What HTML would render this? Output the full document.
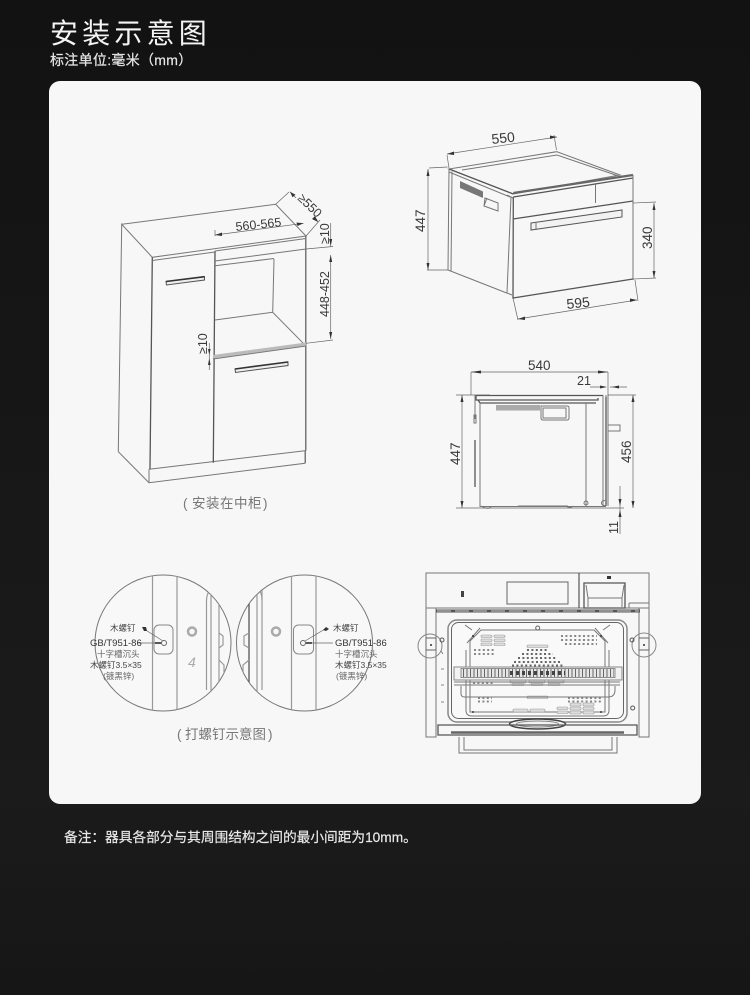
<!DOCTYPE html>
<html lang="zh"><head><meta charset="utf-8"><title>安装示意图</title>
<style>
html,body{margin:0;padding:0;background:#141414}
svg{display:block}
text{font-family:"Liberation Sans","Noto Sans CJK SC",sans-serif}
.d{font-size:13px;fill:#3a3a3a}
.l{fill:none;stroke:#777;stroke-width:1}
.t{fill:none;stroke:#666;stroke-width:.7}
.g{fill:none;stroke:#999;stroke-width:1.2}
.k{fill:none;stroke:#555;stroke-width:1.3}
.a{fill:#333;stroke:none}
.dot{fill:none;stroke:#888;stroke-width:2;stroke-dasharray:2 2.4}
.dk{fill:none;stroke:#666;stroke-width:2;stroke-dasharray:2 2.4}
.pill{fill:#ddd;stroke:#999;stroke-width:.6}
</style></head><body>
<svg xmlns="http://www.w3.org/2000/svg" width="750" height="995" viewBox="0 0 750 995">
<defs>
<linearGradient id="bg" x1="0" y1="0" x2="0" y2="1"><stop offset="0" stop-color="#121212"/><stop offset=".8" stop-color="#1b1b1b"/><stop offset="1" stop-color="#161616"/></linearGradient>
<clipPath id="c1"><circle cx="163" cy="643" r="68"/></clipPath>
<clipPath id="c2"><circle cx="304.5" cy="643" r="68"/></clipPath>
</defs>
<rect width="750" height="995" fill="url(#bg)"/>
<text x="50" y="43" font-size="28" letter-spacing="4.200" fill="#f4f4f4">安装示意图</text>
<text x="50" y="65" font-size="14" letter-spacing=".3" fill="#e8e8e8" stroke="#e8e8e8" stroke-width=".2">标注单位:毫米（mm）</text>
<rect x="49" y="81" width="652" height="723" rx="11" fill="#f7f7f7"/>
<text x="64" y="842" font-size="13.700" fill="#e8e8e8" stroke="#e8e8e8" stroke-width=".2">备注：<tspan x="105">器具各部分与其周围结构之间的最小间距为10mm。</tspan></text>

<!-- cabinet -->
<g>
<path class="l" d="M121.700 224.300L275.700 204.300L306 236L152.300 257.300L121.700 224.300L118.300 451.700L149 482.700L305 463.300V450.700M149 469.300L305 450.700M149 469.300V482.700"/>
<path class="k" d="M152.300 257.300L150 469M215 251L213.300 462.700"/>
<path class="l" d="M152.300 260.500L215 252M215 261L306 249M215 265.700L274 258.500M215 251L306 238.500M274 259L272.700 312.300M215 320L272.700 312.300L303.300 343.300M306 236V450.700M305.500 236V463"/>
<path d="M213 355L306 342.500V345.500L213 358.500Z" fill="#bbb"/>
<path class="l" d="M213 359L306 346"/>
<path d="M166 281.500L204.500 276.700V280L166.500 285Z" fill="#eee" stroke="#555" stroke-width="1"/>
<path d="M166 281.500L204.500 276.700" stroke="#333" stroke-width="1.600"/>
<path d="M235 369L288 362V365.500L235.500 372.500Z" fill="#eee" stroke="#555" stroke-width="1"/>
<path d="M235 369L288 362" stroke="#333" stroke-width="1.600"/>
<!-- dims -->
<path class="t" d="M289 192L275.700 204.300M320 220L306 236M306 249L333 246.500M306 343.300L333 340M215 230V236"/>
<path class="t" d="M215 235L303.500 223.300M290 191.700L296 198M316 218.500L318 222M330.700 223V247M330.700 255V339M209.300 343V370"/>
<path class="a" d="M215 235L222 232.500V236ZM303.500 223.300L296.500 222.500L297.500 226ZM290 191.700L295.500 194.700L292.500 197.200ZM318 222L312 219L315 216ZM329.200 239H332.200L330.700 246ZM330.700 255L329.200 262H332.200ZM330.700 339L329.200 332H332.200ZM208 349H210.600L209.300 355ZM208 365H210.600L209.300 358Z"/>
<text class="d" transform="translate(236 231) rotate(-6)" style="font-size:12.500px">560-565</text>
<text class="d" transform="translate(297 199) rotate(44)" style="font-size:12.500px">≥550</text>
<text class="d" transform="translate(329 244) rotate(-90)" style="font-size:12.500px">≥10</text>
<text class="d" transform="translate(329 317) rotate(-90)" style="font-size:12.500px">448-452</text>
<text class="d" transform="translate(207 354) rotate(-90)" style="font-size:12.500px">≥10</text>
<g font-size="13.500" fill="#777"><text x="183" y="508">(</text><text x="192" y="508" letter-spacing=".5">安装在中柜</text><text x="263" y="508">)</text></g>
</g>

<!-- oven perspective -->
<g>
<path class="l" d="M449 169L556.700 151.700L620 175L513.300 194ZM462 170L557 155L617 175.500"/>
<path d="M513.300 193L633 175" stroke="#666" stroke-width="2.200" fill="none"/>
<path class="k" d="M449 169L513.300 194"/>
<path class="l" d="M449 169L448 270L506.700 293M452 171.500L451 271M511 197L507 293L512 295"/>
<path class="k" d="M513.300 197L513 298L633 279M513 219L633 201M513.300 197L633 178"/>
<path class="l" d="M633 175V280M595.500 183V203M507 195L513 198M449 172L510 197"/>
<path d="M460 181L483 191.500V198L460 188Z" fill="#777"/>
<path class="l" d="M485 198L498 203V211L484 206ZM487 198L484 206"/>
<path d="M531 223L622 210V217L531 230Z" fill="#f2f2f2" stroke="#555" stroke-width="1"/>
<path class="l" d="M536 223V230"/>
<path class="t" d="M447.500 167L429 168M448 270L427 270M633 203L656 202M633 279L656 278M449 168L447 155M556.500 150L554 135M513 298L518 320M635 280L638 301"/>
<path class="t" d="M428 169V270M654 203V278M447 154L557 137M518 319L637 300"/>
<path class="a" d="M428 169L426.500 176H429.500ZM428 270L426.500 263H429.500ZM654 203L652.500 210H655.500ZM654 278L652.500 271H655.500ZM447 154L454 151.500V155ZM557 137L550 135.500V139ZM518 319L525 316.500V320ZM637 300L630 298.500V302Z"/>
<text class="d" x="492" y="144" transform="rotate(-6 492 144)" style="font-size:14px">550</text>
<text class="d" transform="translate(425 232) rotate(-90)" style="font-size:13.500px">447</text>
<text class="d" transform="translate(652 249) rotate(-90)" style="font-size:13.500px">340</text>
<text class="d" x="567" y="309" transform="rotate(-6 567 309)" style="font-size:14px">595</text>
</g>

<!-- oven side -->
<g>
<path class="k" d="M476 395.500H603M476 395.500V400H598V398M478 400L480 403H596"/>
<path class="l" d="M480 403V506.500H606M586 403V506M603 395V506M606 395V506M608 395V506M475 419V395"/>
<path class="k" d="M475 440V487M606 397V506"/>
<path d="M496 405H540V410.500H496Z" fill="#aaa"/>
<path class="l" d="M541 406H567Q569 406 569 408V418Q569 420 567 420H543Q541 420 541 418ZM543 408H566V418H543Z"/>
<path class="l" d="M608 425H620V431H608ZM474 415H476V423H474ZM481 506Q488 510 491 507M518 506H568M566 506Q570 509 573 506"/>
<circle cx="586" cy="503" r="2" class="l"/><circle cx="604" cy="503" r="2.500" class="l"/>
<path class="t" d="M471 372V395M608 372V395M456 395H490M608 395H636M456 508H606M606 508H624M590 387H604M610 387H627"/>
<path class="t" d="M471 372H608M462 395V508M633 395V508M620 486V534"/>
<path class="a" d="M471 372L481 370.500V373.500ZM608 372L598 370.500V373.500ZM462 395L460.500 402H463.500ZM462 508L460.500 501H463.500ZM633 395L631.500 402H634.500ZM633 508L631.500 501H634.500ZM607 387L600 385.500V388.500ZM612 387L619 385.500V388.500ZM620 506L618.500 499H621.500ZM620 510L618.500 517H621.500Z"/>
<text class="d" x="528" y="370" style="font-size:13.500px">540</text>
<text class="d" x="577" y="385" style="font-size:12.500px">21</text>
<text class="d" transform="translate(460 465) rotate(-90)" style="font-size:13.500px">447</text>
<text class="d" transform="translate(631 463) rotate(-90)" style="font-size:13.500px">456</text>
<text class="d" transform="translate(618 534) rotate(-90)" style="font-size:12.500px">11</text>
</g>

<!-- circles -->
<g>
<circle cx="163" cy="643" r="68" fill="#f8f8f8" stroke="#777" stroke-width="1"/>
<circle cx="304.500" cy="643" r="68" fill="#f8f8f8" stroke="#777" stroke-width="1"/>
<g clip-path="url(#c1)">
<path class="g" d="M152.500 570V715M177 570V715M206.500 600V690M211 590V715M219 590V715"/>
<path class="g" d="M206.500 600Q207 592 211 590M219 633L223 636V645L219 648M219 660L224 665V680L219 686"/>
<rect x="154" y="625" width="19" height="29" rx="5" fill="none" stroke="#888"/>
<circle cx="164" cy="643" r="2.500" fill="none" stroke="#666"/>
<circle cx="192" cy="631.500" r="4" fill="none" stroke="#aaa" stroke-width="2.500"/>
<text x="188" y="667" font-size="14" fill="#aaa" font-style="italic">4</text>
</g>
<g clip-path="url(#c2)">
<path class="g" d="M291.500 570V715M316 570V715M262 590V690M257 590V715"/>
<path class="k" d="M249 595V690"/>
<path class="g" d="M262 600Q262 592 258 590M249 633L244 636V645L249 648M249 660L243 665V680L249 686"/>
<rect x="293.500" y="625" width="20" height="29" rx="5" fill="none" stroke="#888"/>
<circle cx="303" cy="643" r="2.500" fill="none" stroke="#666"/>
<circle cx="276" cy="631.500" r="4" fill="none" stroke="#aaa" stroke-width="2.500"/>
</g>
<path d="M161 643H155" stroke="#222" stroke-width="1.500"/><path class="t" d="M155 643H138M163 641L144 629"/>
<path d="M306 643H312" stroke="#222" stroke-width="1.500"/><path class="t" d="M312 643H333M305 641L325 629"/>
<path class="a" d="M142 627L146 627L147 631L144 631ZM323 630L326 627L329 629L326 631Z"/>
<g font-size="8.500" fill="#444">
<text x="110" y="631">木螺钉</text><text x="90" y="646" font-size="9.500" fill="#333">GB/T951-86</text><text x="97" y="657" fill="#666">十字槽沉头</text><text x="90" y="668" fill="#444">木螺钉3.5×35</text><text x="103" y="679" fill="#666">(镀黑锌)</text>
<text x="333" y="631">木螺钉</text><text x="335" y="646" font-size="9.500" fill="#333">GB/T951-86</text><text x="335" y="657" fill="#666">十字槽沉头</text><text x="335" y="668" fill="#444">木螺钉3.5×35</text><text x="336" y="679" fill="#666">(镀黑锌)</text>
</g>
<g font-size="13.500" fill="#777"><text x="177" y="739">(</text><text x="185" y="739">打螺钉示意图</text><text x="268" y="739">)</text></g>
</g>

<!-- oven front -->
<g>
<path class="l" d="M426 573H649V608H426ZM426 608V737H436V608M639 608V737H649V608"/>
<path d="M579 573V608" stroke="#555" stroke-width="1.200"/>
<rect x="507" y="582" width="61" height="22" fill="none" stroke="#666"/>
<path class="k" d="M584 583H625V608H584Z"/>
<path class="l" d="M586 585L588 598H622L624 585M588 598V607M622 598V607"/>
<rect x="607" y="576" width="4" height="3" fill="#333"/>
<rect x="461" y="591" width="3" height="6" fill="#444"/>
<path class="l" d="M629 603H649M629 608V603"/>
<path d="M436 611H640" stroke="#555" stroke-width="3"/>
<path style="stroke:#ccc;stroke-width:1;stroke-dasharray:14 4;fill:none" d="M437 611H639"/>
<rect x="448" y="620" width="179" height="102" rx="9" fill="#f9f9f9" stroke="#888" stroke-width="1.500"/>
<rect x="451.500" y="622.500" width="172" height="96" rx="7" fill="none" stroke="#666" stroke-width="1"/>
<path class="l" d="M470 641L481 630H594L605 641V712H470Z"/>
<path class="l" d="M467 643L480 628M608 643L595 628M466 650V710Q466 716 472 716H603Q609 716 609 710V650"/>
<path class="l" d="M465 625L472 630M610 625L603 630M513 630H562"/>
<circle cx="537.700" cy="628" r="2" fill="none" stroke="#666"/>
<g fill="#333"><circle cx="473" cy="636" r="1"/><circle cx="601" cy="636" r="1"/><circle cx="473" cy="712" r="1"/><circle cx="601" cy="712" r="1"/></g>
<!-- pills -->
<g class="pill">
<rect x="481" y="635" width="11" height="2.500" rx="1" class="pill"/><rect x="494" y="635" width="11" height="2.500" rx="1" class="pill"/>
<rect x="481" y="639" width="11" height="2.500" rx="1" class="pill"/><rect x="494" y="639" width="11" height="2.500" rx="1" class="pill"/>
<rect x="481" y="643" width="11" height="2.500" rx="1" class="pill"/><rect x="494" y="643" width="11" height="2.500" rx="1" class="pill"/>
<rect x="527" y="645" width="21" height="2.500" rx="1" class="pill"/>
<rect x="513" y="709" width="15" height="3" rx="1" class="pill"/><rect x="530" y="709" width="15" height="3" rx="1" class="pill"/>
<rect x="527" y="696" width="21" height="2.500" rx="1" class="pill"/>
<rect x="570" y="703" width="11" height="3" rx="1" class="pill"/><rect x="583" y="703" width="11" height="3" rx="1" class="pill"/>
<rect x="570" y="707" width="11" height="3" rx="1" class="pill"/><rect x="583" y="707" width="11" height="3" rx="1" class="pill"/>
<rect x="570" y="711" width="11" height="3" rx="1" class="pill"/><rect x="583" y="711" width="11" height="3" rx="1" class="pill"/>
<rect x="557" y="707" width="11" height="2.500" rx="1" class="pill"/><rect x="557" y="711" width="11" height="2.500" rx="1" class="pill"/>
<rect x="510" y="680" width="16" height="3" rx="1" class="pill"/><rect x="529" y="680" width="16" height="3" rx="1" class="pill"/><rect x="548" y="680" width="16" height="3" rx="1" class="pill"/>
<rect x="512" y="683.500" width="12" height="2" rx="1" class="pill"/><rect x="531" y="683.500" width="12" height="2" rx="1" class="pill"/><rect x="548" y="683.500" width="12" height="2" rx="1" class="pill"/>
</g>
<path class="dot" d="M561 636H597M561 640H597M565 644H597"/>
<path class="dot" d="M474 650H496M474 654H496"/>
<path class="dk" d="M527 650H548M522 654H553M518 658H557M514 662H561"/>
<path class="dk" d="M512 665.500H563"/>
<path class="dot" d="M473 683H495"/>
<path class="dot" d="M478 698H492M478 701.500H492M568 698H602M568 701.500H602"/>
<!-- rack -->
<rect x="454" y="667" width="168" height="13" fill="#f2f2f2" stroke="#888"/>
<rect x="461" y="668.500" width="154" height="9" fill="#e6e6e6" stroke="#777" stroke-width=".8"/>
<path d="M463 673H614" stroke="#666" stroke-width="8" stroke-dasharray="1 2.500" fill="none"/>
<path d="M510 673H565" stroke="#444" stroke-width="4" stroke-dasharray="3 3" fill="none"/>
<path class="l" d="M454 682H620M454 685H620M461 686V694Q461 697 465 697H608Q615 697 615 690V686"/>
<ellipse cx="537.500" cy="724" rx="28" ry="5" fill="#f2f2f2" stroke="#444" stroke-width="1.500"/>
<ellipse cx="537.500" cy="724" rx="21" ry="3" fill="none" stroke="#888"/>
<path class="k" d="M438 725H637V735H438Z"/>
<path d="M451 732.500H624" stroke="#666" stroke-width="2.500"/>
<path class="l" d="M459 737V753H617V737M464 737V750H612V737"/>
<circle cx="430" cy="646" r="12" fill="none" stroke="#888"/>
<circle cx="644" cy="645" r="12" fill="none" stroke="#888"/>
<rect x="426" y="638" width="10" height="12" fill="none" stroke="#666"/>
<rect x="639" y="638" width="10" height="12" fill="none" stroke="#666"/>
<circle cx="431" cy="645" r="1" fill="#333"/><circle cx="644" cy="645" r="1" fill="#333"/>
<circle cx="442" cy="640" r="2" fill="none" stroke="#555"/>
<circle cx="632" cy="640" r="2" fill="none" stroke="#555"/>
<circle cx="632.700" cy="708" r="2" fill="none" stroke="#555"/>
<g class="t"><path d="M441 651L443 654M441 669H444M441 685H444M441 702H444"/></g>
</g>
</svg>
</body></html>
